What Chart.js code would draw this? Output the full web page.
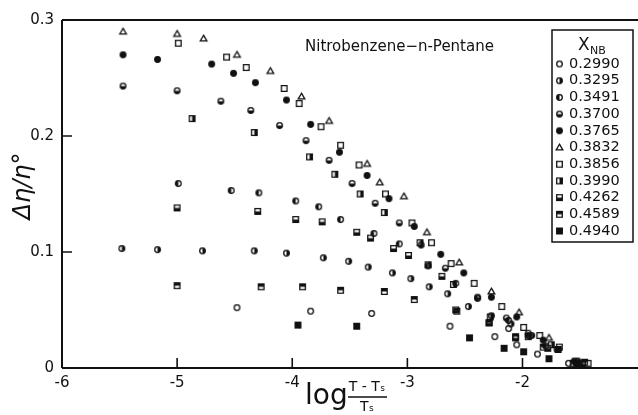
<!DOCTYPE html>
<html>
<head>
<meta charset="utf-8">
<script src="https://cdn.jsdelivr.net/npm/chart.js@4/dist/chart.umd.min.js"></script>
<style>
  html, body { margin: 0; padding: 0; background: #fff; overflow: hidden; }
  #wrap { width: 638px; height: 415px; }
</style>
</head>
<body>
<div id="wrap"><canvas id="chart" width="638" height="415"></canvas></div>
<script>
// values (x = log((T-Ts)/Ts), y = Δη/η°)
const xTicks = [-6, -5, -4, -3, -2, -1];
const yTicks = [0, 0.1, 0.2, 0.3];
const legendLabels = ['0.2990', '0.3295', '0.3491', '0.3700', '0.3765', '0.3832', '0.3856', '0.3990', '0.4262', '0.4589', '0.4940'];

const x2990 = [-4.48, -3.84, -3.31, -2.63, -2.24, -2.12, -2.05, -1.87, -1.60];
const y2990 = [0.052, 0.049, 0.047, 0.036, 0.027, 0.034, 0.020, 0.012, 0.004];

const x3295 = [-5.48, -5.17, -4.78, -4.33, -4.05, -3.73, -3.51, -3.34, -3.13, -2.97, -2.81, -2.65, -2.47, -2.27, -2.10, -1.92, -1.70, -1.52];
const y3295 = [0.103, 0.102, 0.101, 0.101, 0.099, 0.095, 0.092, 0.087, 0.082, 0.077, 0.070, 0.064, 0.053, 0.045, 0.038, 0.028, 0.016, 0.006];

const x3491 = [-4.99, -4.53, -4.29, -3.97, -3.77, -3.58, -3.29, -3.07, -2.82, -2.58, -2.39, -2.12, -1.95, -1.80, -1.55];
const y3491 = [0.159, 0.153, 0.151, 0.144, 0.139, 0.128, 0.116, 0.107, 0.088, 0.073, 0.060, 0.041, 0.028, 0.019, 0.006];

const x3700 = [-5.47, -5.00, -4.62, -4.36, -4.11, -3.88, -3.68, -3.48, -3.28, -3.07, -2.88, -2.67, -2.39, -2.14, -1.95, -1.69, -1.50];
const y3700 = [0.243, 0.239, 0.230, 0.222, 0.209, 0.196, 0.179, 0.159, 0.142, 0.125, 0.106, 0.086, 0.061, 0.043, 0.030, 0.016, 0.004];

const x3765 = [-5.47, -5.17, -4.70, -4.51, -4.32, -4.05, -3.84, -3.59, -3.35, -3.16, -2.94, -2.71, -2.51, -2.27, -2.05, -1.82, -1.54];
const y3765 = [0.270, 0.266, 0.262, 0.254, 0.246, 0.231, 0.210, 0.186, 0.166, 0.146, 0.122, 0.098, 0.082, 0.061, 0.044, 0.024, 0.005];

const x3832 = [-5.47, -5.00, -4.77, -4.48, -4.19, -3.92, -3.68, -3.35, -3.24, -3.03, -2.83, -2.55, -2.27, -2.03, -1.77];
const y3832 = [0.290, 0.288, 0.284, 0.270, 0.256, 0.234, 0.213, 0.176, 0.160, 0.148, 0.117, 0.091, 0.066, 0.048, 0.026];

const x3856 = [-4.99, -4.57, -4.40, -4.07, -3.94, -3.75, -3.58, -3.42, -3.19, -2.96, -2.79, -2.62, -2.42, -2.18, -1.99, -1.85, -1.68, -1.43];
const y3856 = [0.280, 0.268, 0.259, 0.241, 0.228, 0.208, 0.192, 0.175, 0.150, 0.125, 0.108, 0.090, 0.073, 0.053, 0.035, 0.028, 0.018, 0.004];

const x3990 = [-4.87, -4.33, -3.85, -3.63, -3.41, -3.20, -2.89, -2.82, -2.60, -2.28, -1.95, -1.75, -1.56];
const y3990 = [0.215, 0.203, 0.182, 0.167, 0.150, 0.134, 0.108, 0.089, 0.072, 0.044, 0.027, 0.020, 0.004];

const x4262 = [-5.00, -4.30, -3.97, -3.74, -3.44, -3.32, -3.12, -2.99, -2.70, -2.58, -2.29, -2.06, -1.78, -1.48];
const y4262 = [0.138, 0.135, 0.128, 0.126, 0.117, 0.112, 0.103, 0.097, 0.079, 0.050, 0.039, 0.026, 0.017, 0.003];

const x4589 = [-5.00, -4.27, -3.91, -3.58, -3.20, -2.94, -2.57, -2.29, -2.06, -1.82, -1.69, -1.46];
const y4589 = [0.071, 0.070, 0.070, 0.067, 0.066, 0.059, 0.049, 0.039, 0.027, 0.018, 0.016, 0.005];

const x4940 = [-3.95, -3.44, -2.46, -2.16, -1.99, -1.77, -1.52];
const y4940 = [0.037, 0.036, 0.026, 0.017, 0.014, 0.008, 0.002];

// marker images: shape + which part is filled
function makeMarker(shape, fill) {
    const s = 11, c = s / 2, r = 2.8;
    const cv = document.createElement('canvas');
    cv.width = s; cv.height = s;
    const g = cv.getContext('2d');
    g.strokeStyle = '#111';
    g.fillStyle = '#111';
    g.lineWidth = 1.3;

    const path = () => {
        g.beginPath();
        if (shape === 'circle') g.arc(c, c, r, 0, Math.PI * 2);
        else if (shape === 'square') g.rect(c - r, c - r, 2 * r, 2 * r);
        else { g.moveTo(c, c - r - 0.5); g.lineTo(c + r + 0.5, c + r - 0.5); g.lineTo(c - r - 0.5, c + r - 0.5); g.closePath(); }
    };

    if (fill === 'full') { path(); g.fill(); }
    else if (fill !== 'none') {
        g.save();
        path(); g.clip();
        if (fill === 'right') g.fillRect(c, 0, s, s);
        if (fill === 'left') g.fillRect(0, 0, c, s);
        if (fill === 'bottom') g.fillRect(0, c, s, s);
        if (fill === 'top') g.fillRect(0, 0, s, c);
        g.restore();
    }
    path(); g.stroke();
    return cv;
}

const markers = [
    makeMarker('circle', 'none'),
    makeMarker('circle', 'right'),
    makeMarker('circle', 'left'),
    makeMarker('circle', 'bottom'),
    makeMarker('circle', 'full'),
    makeMarker('triangle', 'none'),
    makeMarker('square', 'none'),
    makeMarker('square', 'right'),
    makeMarker('square', 'bottom'),
    makeMarker('square', 'top'),
    makeMarker('square', 'full')
];

const seriesX = [x2990, x3295, x3491, x3700, x3765, x3832, x3856, x3990, x4262, x4589, x4940];
const seriesY = [y2990, y3295, y3491, y3700, y3765, y3832, y3856, y3990, y4262, y4589, y4940];

const datasets = legendLabels.map((label, i) => ({
    label: label,
    data: seriesX[i].map((x, j) => ({ x: x, y: seriesY[i][j] })),
    pointStyle: markers[i],
    pointRadius: 4,
    showLine: false
}));

const FONT = '"DejaVu Sans", sans-serif';

// frame, inward ticks, titles and the boxed legend
const paperPlugin = {
    id: 'paper',
    afterDraw(chart) {
        const ctx = chart.ctx;
        const a = chart.chartArea;
        const xs = chart.scales.x, ys = chart.scales.y;
        ctx.save();
        ctx.strokeStyle = '#111';
        ctx.lineWidth = 2;
        ctx.beginPath();
        ctx.moveTo(a.left, a.top); ctx.lineTo(638, a.top);
        ctx.moveTo(a.left, a.top); ctx.lineTo(a.left, a.bottom);
        ctx.moveTo(a.left, a.bottom); ctx.lineTo(638, a.bottom);
        ctx.stroke();

        ctx.lineWidth = 1.6;
        ctx.beginPath();
        xTicks.forEach(v => {
            if (v <= -6 || v > xs.max) return;
            const px = xs.getPixelForValue(v);
            ctx.moveTo(px, a.bottom); ctx.lineTo(px, a.bottom - 10);
        });
        yTicks.forEach(v => {
            if (v <= 0 || v >= 0.3) return;
            const py = ys.getPixelForValue(v);
            ctx.moveTo(a.left, py); ctx.lineTo(a.left + 10, py);
        });
        ctx.stroke();

        ctx.fillStyle = '#111';
        ctx.textBaseline = 'middle';
        ctx.font = '15px ' + FONT;
        ctx.fillText('Nitrobenzene\u2212n-Pentane', 305, 47);

        // y title
        ctx.save();
        ctx.translate(24, 186);
        ctx.rotate(-Math.PI / 2);
        ctx.textAlign = 'center';
        ctx.font = 'italic 24px ' + FONT;
        ctx.fillText('\u0394\u03b7/\u03b7\u00b0', 0, 0);
        ctx.restore();

        // x title as fraction
        ctx.textAlign = 'left';
        ctx.font = '28px ' + FONT;
        ctx.fillText('log', 305, 397);
        ctx.font = '14px ' + FONT;
        ctx.textAlign = 'center';
        ctx.fillText('T - T\u209b', 367, 387);
        ctx.fillText('T\u209b', 367, 407);
        ctx.lineWidth = 1.3;
        ctx.beginPath();
        ctx.moveTo(348, 397); ctx.lineTo(387, 397);
        ctx.stroke();

        // legend box
        const lx = 552, ly = 30, lw = 81, lh = 212;
        ctx.lineWidth = 1.5;
        ctx.strokeRect(lx, ly, lw, lh);
        ctx.textAlign = 'left';
        ctx.font = '17px ' + FONT;
        ctx.fillText('X', 578, 46);
        ctx.font = '11px ' + FONT;
        ctx.fillText('NB', 590, 51);
        ctx.font = '14.5px ' + FONT;
        legendLabels.forEach((label, i) => {
            const y = 64 + i * 16.7;
            ctx.drawImage(markers[i], 554, y - 5.5);
            ctx.fillText(label, 569, y);
        });
        ctx.restore();
    }
};

new Chart(document.getElementById('chart'), {
    type: 'scatter',
    data: { datasets: datasets },
    options: {
        responsive: false,
        animation: false,
        layout: { padding: { top: 20, right: 0, left: 0, bottom: 0 } },
        plugins: { legend: { display: false }, tooltip: { enabled: false } },
        scales: {
            x: {
                type: 'linear',
                min: -6, max: -1.04,
                afterFit(scale) { scale.height = 47; },
                afterBuildTicks(scale) { scale.ticks = xTicks.filter(v => v <= scale.max).map(v => ({ value: v })); },
                grid: { display: false, drawTicks: false },
                border: { display: false },
                ticks: { color: '#111', font: { family: FONT, size: 15 }, padding: 6, callback: v => String(v) }
            },
            y: {
                min: 0, max: 0.3,
                afterFit(scale) { scale.width = 62; },
                afterBuildTicks(scale) { scale.ticks = yTicks.map(v => ({ value: v })); },
                grid: { display: false, drawTicks: false },
                border: { display: false },
                ticks: { color: '#111', font: { family: FONT, size: 15 }, padding: 8, callback: v => v === 0 ? '0' : v.toFixed(1) }
            }
        }
    },
    plugins: [paperPlugin]
});
</script>
</body>
</html>
